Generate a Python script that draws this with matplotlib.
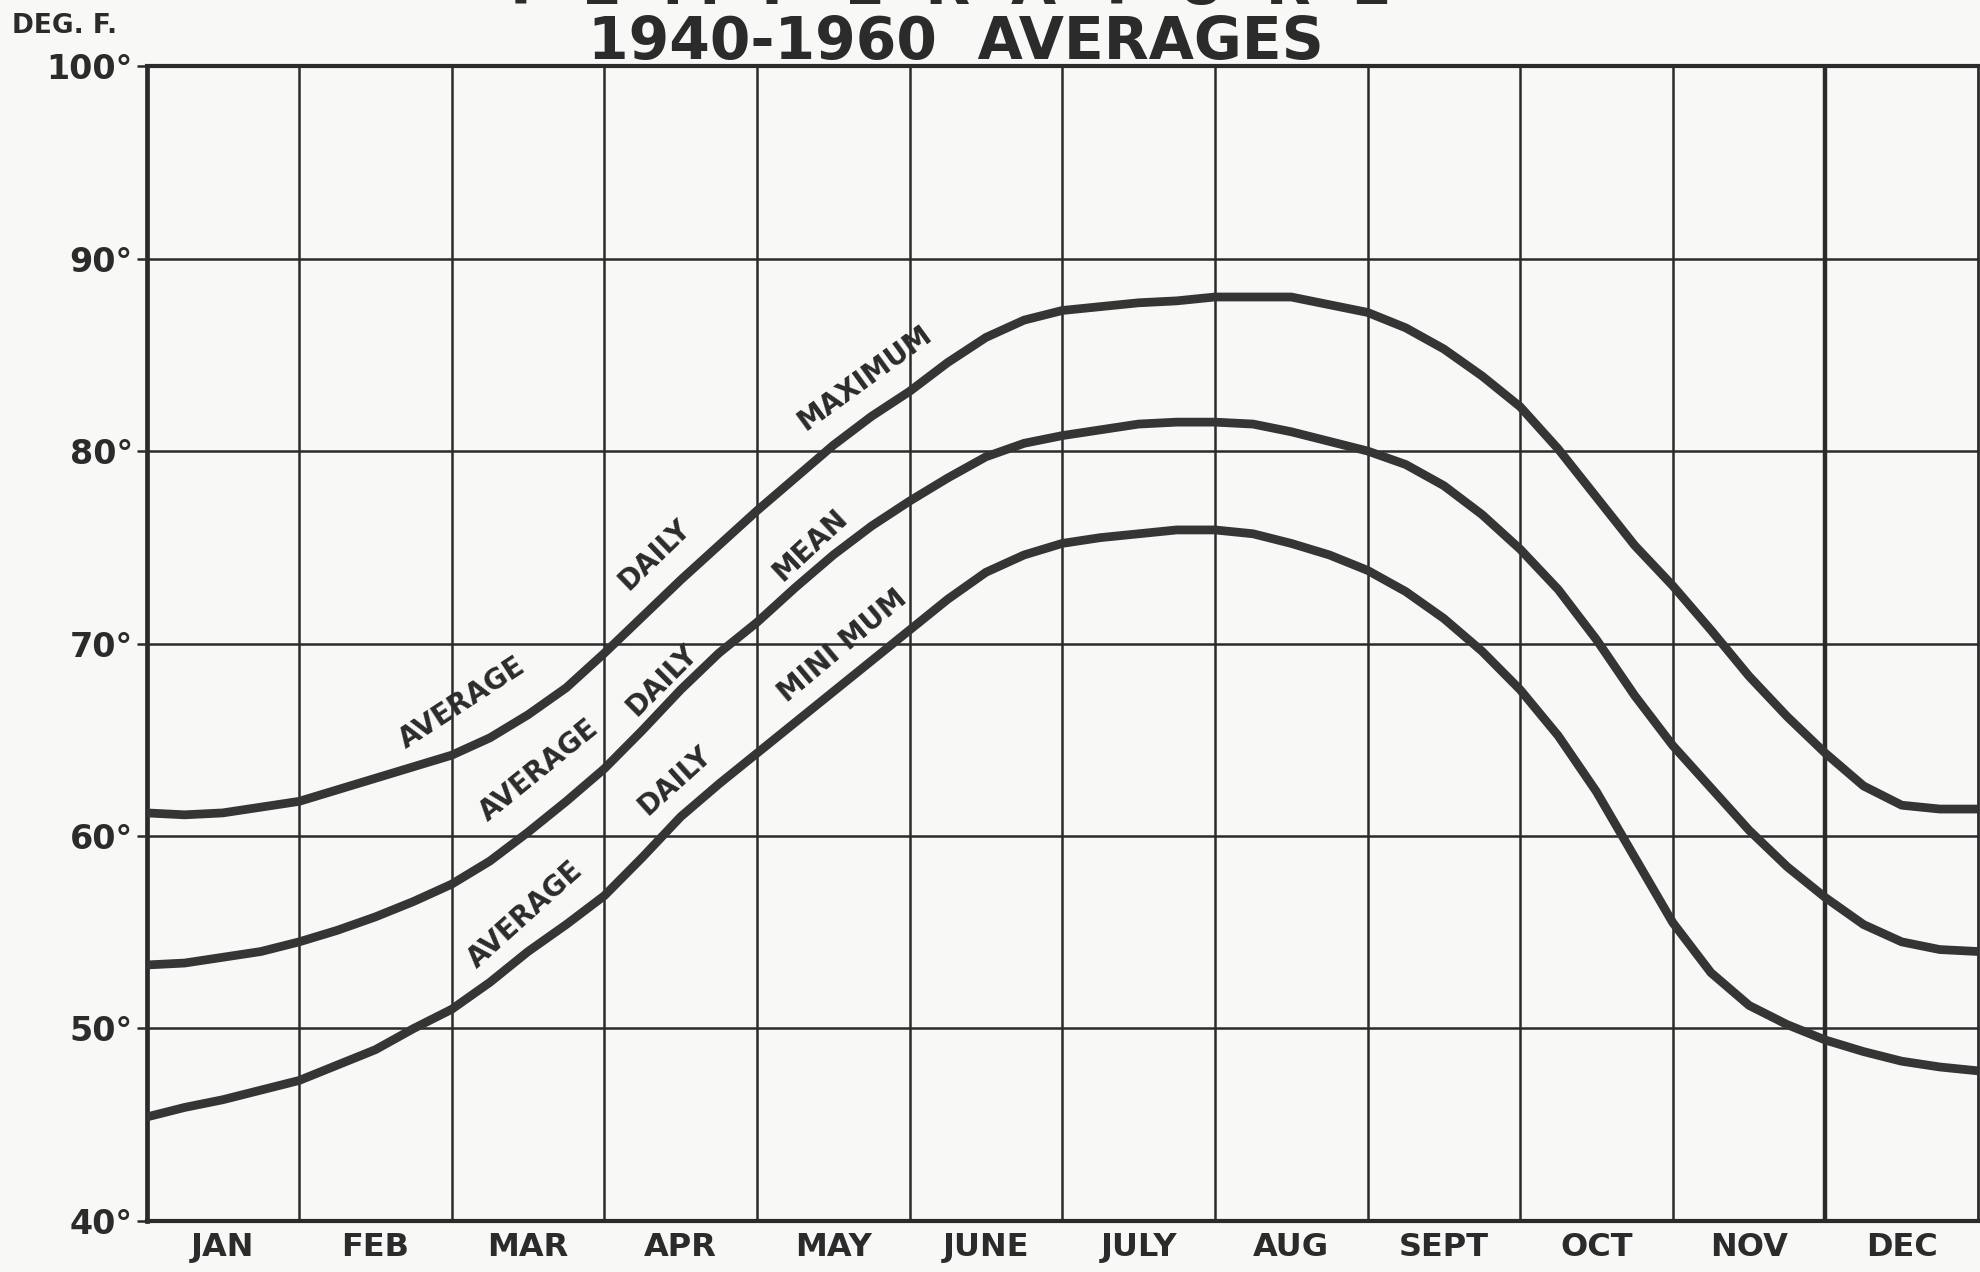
import matplotlib.pyplot as plt
import numpy as np

#%% Data (deg F), every quarter month from start of Jan (0) to end of Dec (12)

months = ['JAN', 'FEB', 'MAR', 'APR', 'MAY', 'JUNE', 'JULY', 'AUG', 'SEPT', 'OCT', 'NOV', 'DEC']
month_pos = np.arange(0, 12.01, 0.25)

avg_max = [61.2, 61.1, 61.2, 61.5, 61.8, 62.4, 63.0, 63.6, 64.2, 65.1, 66.3, 67.7,
           69.5, 71.4, 73.3, 75.1, 76.9, 78.6, 80.3, 81.8, 83.1, 84.6, 85.9, 86.8,
           87.3, 87.5, 87.7, 87.8, 88.0, 88.0, 88.0, 87.6, 87.2, 86.4, 85.3, 83.9,
           82.3, 80.1, 77.6, 75.1, 73.0, 70.7, 68.3, 66.2, 64.3, 62.6, 61.6, 61.4, 61.4]
avg_mean = [53.3, 53.4, 53.7, 54.0, 54.5, 55.1, 55.8, 56.6, 57.5, 58.7, 60.2, 61.8,
            63.5, 65.5, 67.6, 69.5, 71.1, 72.9, 74.6, 76.1, 77.4, 78.6, 79.7, 80.4,
            80.8, 81.1, 81.4, 81.5, 81.5, 81.4, 81.0, 80.5, 80.0, 79.3, 78.2, 76.7,
            74.9, 72.8, 70.2, 67.3, 64.7, 62.5, 60.3, 58.4, 56.8, 55.4, 54.5, 54.1, 54.0]
avg_min = [45.4, 45.9, 46.3, 46.8, 47.3, 48.1, 48.9, 50.0, 51.0, 52.4, 54.0, 55.4,
           56.9, 58.9, 61.0, 62.7, 64.3, 65.9, 67.5, 69.1, 70.7, 72.3, 73.7, 74.6,
           75.2, 75.5, 75.7, 75.9, 75.9, 75.7, 75.2, 74.6, 73.8, 72.7, 71.3, 69.6,
           67.6, 65.2, 62.3, 58.9, 55.5, 52.9, 51.2, 50.2, 49.4, 48.8, 48.3, 48.0, 47.8]

y_ticks = [40, 50, 60, 70, 80, 90, 100]

# words written along the curves: (text, month, deg F, angle)
curve_words = [
    ('AVERAGE', 2.07, 66.9, 33),
    ('DAILY', 3.33, 74.6, 44),
    ('MAXIMUM', 4.71, 83.8, 36),
    ('AVERAGE', 2.57, 63.4, 39),
    ('DAILY', 3.38, 68.1, 45),
    ('MEAN', 4.35, 75.1, 43),
    ('AVERAGE', 2.48, 55.9, 42),
    ('DAILY', 3.46, 62.9, 42),
    ('MINI MUM', 4.56, 69.9, 40),
]

#%% Plot

ink = '#2b2b2b'
paper = '#f8f8f6'
plt.rcParams['font.family'] = 'DejaVu Sans'
plt.rcParams['font.weight'] = 'bold'

fig = plt.figure(figsize=(19.8, 12.72), dpi=100, facecolor=paper)
ax = fig.add_axes([0.074, 0.0401, 0.925, 0.908], facecolor=paper)
ax.set_xlim(0, 12)
ax.set_ylim(40, 100)
for s in ax.spines.values():
    s.set_visible(False)

# grid, drawn by hand like the paper
for m in range(1, 12):
    lw = 3.2 if m == 11 else 1.8
    ax.axvline(m, color=ink, lw=lw, zorder=1)
ax.axvline(0, color=ink, lw=3.4, zorder=1, clip_on=False)
ax.axvline(12, color=ink, lw=2.0, zorder=1, clip_on=False)
for t in y_ticks:
    lw = 3.0 if t in (40, 100) else 1.8
    ax.axhline(t, color=ink, lw=lw, zorder=1, clip_on=False)

for series in (avg_max, avg_mean, avg_min):
    ax.plot(month_pos, series, color='#353535', lw=6.3, solid_joinstyle='round',
            solid_capstyle='butt', zorder=3)

for word, x, y, ang in curve_words:
    ax.text(x, y, word, rotation=ang, rotation_mode='anchor', ha='center', va='center',
            fontsize=20, color=ink, zorder=4)

ax.set_yticks(y_ticks)
ax.set_yticklabels(['%d°' % t for t in y_ticks], fontsize=24, color=ink)
ax.tick_params(axis='y', length=7, width=1.8, color=ink, pad=3)
ax.set_xticks(np.arange(12) + 0.5)
ax.set_xticklabels(months, fontsize=23, color=ink)
ax.tick_params(axis='x', length=0, pad=8)

# title (top line cut off by the page edge in the original)
fig.text(0.478, 0.9965, 'T  E  M  P  E  R  A  T  U  R  E', ha='center', va='baseline',
         fontsize=42, color=ink)
fig.text(0.483, 0.954, '1940-1960  AVERAGES', ha='center', va='baseline',
         fontsize=42, color=ink)
fig.text(0.006, 0.99, 'DEG. F.', ha='left', va='top', fontsize=19, color=ink)

plt.savefig('out.png', dpi=100, facecolor=paper)
